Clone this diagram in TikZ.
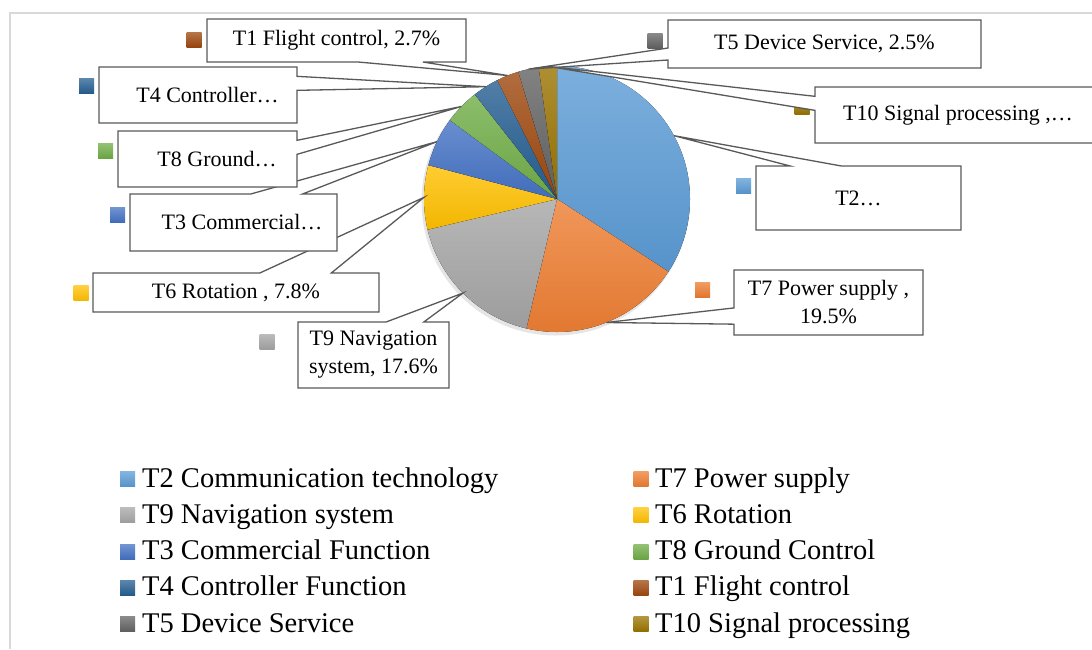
\documentclass[tikz,border=0pt]{standalone}
\usepackage{fontspec}
\setmainfont{Liberation Serif}
\usetikzlibrary{calc,positioning}

\definecolor{cT2}{HTML}{5B9BD5}
\definecolor{cT7}{HTML}{ED7D31}
\definecolor{cT9}{HTML}{A5A5A5}
\definecolor{cT6}{HTML}{FFC000}
\definecolor{cT3}{HTML}{4472C4}
\definecolor{cT8}{HTML}{70AD47}
\definecolor{cT4}{HTML}{255E91}
\definecolor{cT1}{HTML}{9E480E}
\definecolor{cT5}{HTML}{636363}
\definecolor{cT10}{HTML}{997300}

\pgfdeclarelayer{back}
\pgfsetlayers{back,main}

\tikzset{
  calbox/.style={inner sep=0pt, outer sep=0pt, align=center,
    font=\fontsize{22}{28}\selectfont},
  calline/.style={draw=black!65, line width=1.3pt, fill=white, line join=miter},
  keysq/.style={minimum size=15pt, inner sep=0pt, outer sep=0pt,
    top color=#1!75!white, bottom color=#1!95!black},
  legtxt/.style={inner sep=0pt, anchor=base west,
    font=\fontsize{28.5}{34}\selectfont},
}

\begin{document}
\begin{tikzpicture}[x=1pt, y=-1pt]
    \useasboundingbox (0,0) rectangle (1092,649);
    \draw[black!15, line width=2pt] (9.5,649) -- (9.5,12.5) -- (1092,12.5);

    \coordinate (pie) at (557,199);

    % data labels
    \node[calbox, minimum width=205pt, minimum height=64pt] (T2) at (858.5,198) {T2…};
    \node[calbox, minimum width=189pt, minimum height=65pt] (T7) at (828.5,302.5) {T7 Power supply ,\\19.5\%};
    \node[calbox, minimum width=151pt, minimum height=66pt] (T9) at (373.5,355) {T9 Navigation\\system, 17.6\%};
    \node[calbox, minimum width=286pt, minimum height=39pt] (T6) at (236,292.5) {T6 Rotation , 7.8\%};
    \node[calbox, minimum width=207pt, minimum height=57pt] (T3) at (233.5,222.5) {\hspace*{17pt}T3 Commercial…};
    \node[calbox, minimum width=179pt, minimum height=56pt] (T8) at (207.5,159) {\hspace*{19pt}T8 Ground…};
    \node[calbox, minimum width=198pt, minimum height=56pt] (T4) at (198,95) {\hspace*{19pt}T4 Controller…};
    \node[calbox, minimum width=259pt, minimum height=43pt] (T1) at (336.5,40.5) {T1 Flight control, 2.7\%};
    \node[calbox, minimum width=313pt, minimum height=48pt] (T5) at (824.5,44) {T5 Device Service, 2.5\%};
    \node[calbox, minimum width=286pt, minimum height=56pt] (T10) at (958,115) {T10 Signal processing ,…};

    \begin{pgfonlayer}{back}
    \fill[black!10] ($(pie)+(-1.5,2.5)$) circle[radius=134];
    % slices, clockwise from the top
    \foreach \n/\a/\b in {T2/0/123.12, T7/123.12/193.32, T9/193.32/256.68,
        T6/256.68/284.76, T3/284.76/306.36, T8/306.36/321.84, T4/321.84/333.36,
        T1/333.36/343.08, T5/343.08/352.08, T10/352.08/360} {
      \fill[top color=c\n!80!white, bottom color=c\n!95!black]
        (pie) -- ++({\a-90}:133) arc[start angle=\a-90, end angle=\b-90, radius=133] -- cycle;
      \coordinate (t\n) at ($(pie)+({(\a+\b)/2-90}:133)$);
    }
    % keys beside the labels
    \foreach \n/\x/\y in {T2/743.5/185.5, T7/702.5/289.5, T9/267/341.5, T6/81/293,
        T3/117.5/214.5, T8/105.5/150.5, T4/86.5/86, T1/194/39.5, T5/655/40.5, T10/802/107}
      \node[keysq=c\n] (k\n) at (\x,\y) {};
    % callout outlines
    \foreach \n/\p/\q/\r/\s/\fa/\fb in {
        T2/north west/north east/south east/south west/0.1667/0.4167,
        T7/south west/north west/north east/south east/0.1667/0.4167,
        T9/north west/north east/south east/south west/0.5833/0.8333,
        T6/north west/north east/south east/south west/0.5833/0.8333,
        T3/north west/north east/south east/south west/0.5833/0.8333,
        T8/north east/south east/south west/north west/0.1667/0.4167,
        T4/north east/south east/south west/north west/0.1667/0.4167,
        T1/south east/south west/north west/north east/0.1667/0.4167,
        T5/south west/north west/north east/south east/0.1667/0.4167,
        T10/south west/north west/north east/south east/0.5833/0.8333}
      \draw[calline] (\n.\p) -- ($(\n.\p)!\fa!(\n.\q)$) -- (t\n)
        -- ($(\n.\p)!\fb!(\n.\q)$) -- (\n.\q) -- (\n.\r) -- (\n.\s) -- cycle;
    \end{pgfonlayer}

    % legend
    \foreach \n/\txt/\c/\r in {T2/T2 Communication technology/0/0, T7/T7 Power supply/1/0,
        T9/T9 Navigation system/0/1, T6/T6 Rotation/1/1,
        T3/T3 Commercial Function/0/2, T8/T8 Ground Control/1/2,
        T4/T4 Controller Function/0/3, T1/T1 Flight control/1/3,
        T5/T5 Device Service/0/4, T10/T10 Signal processing/1/4} {
      \node[keysq=c\n] (lk\n) at ({127.5+513.5*\c},{479+36.25*\r}) {};
      \node[legtxt] (l\n) at ({142+513*\c},{487+36.25*\r}) {\txt};
    }
\end{tikzpicture}
\end{document}
